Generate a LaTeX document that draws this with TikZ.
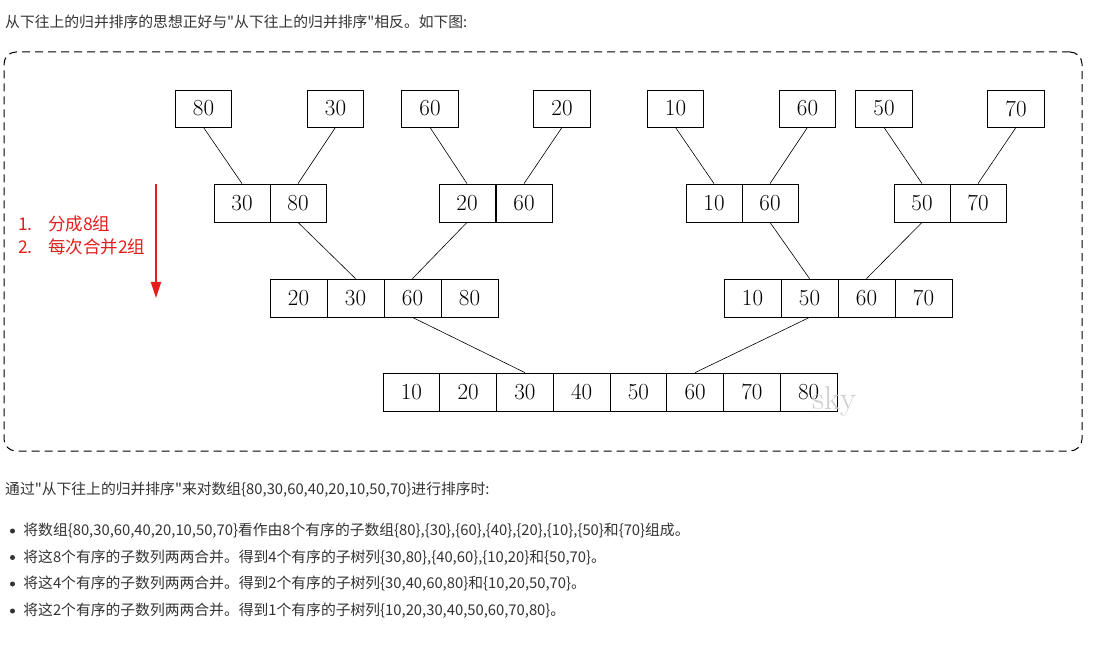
\documentclass[tikz,border=0pt]{standalone}
\usepackage{fontspec}
\newfontfamily\cjk{Noto Sans CJK SC}
\usetikzlibrary{arrows.meta,positioning}
\definecolor{textgray}{RGB}{51,51,51}
\definecolor{notered}{RGB}{228,30,30}
\definecolor{markgray}{RGB}{205,205,205}

\begin{document}
\begin{tikzpicture}[
    x=1pt, y=-1pt,
    cell/.style={rectangle, draw, line width=0.8pt, minimum width=56.5pt, minimum height=37pt, inner sep=0pt, font=\fontsize{23}{23}\selectfont},
    link/.style={line width=0.6pt},
    frame/.style={draw, dash pattern=on 8pt off 5pt, rounded corners=12pt, line width=1pt, minimum width=1078pt, minimum height=399pt},
    body/.style={anchor=west, inner sep=0pt, text=textgray, font=\cjk\fontsize{14.8}{18}\selectfont},
    note/.style={anchor=west, inner sep=0pt, align=left, text=notered, font=\cjk\fontsize{17.5}{23}\selectfont},
    dot/.style={circle, fill=textgray, inner sep=0pt, minimum size=5pt}
]
\useasboundingbox (0,0) rectangle (1119,652);

% Text above
\node[body] (intro) at (5,22) {从下往上的归并排序的思想正好与"从下往上的归并排序"相反。如下图:};

% Dashed frame
\node[frame] (frame) at (543,251.5) {};

% Groups of one
\foreach \v/\x [count=\i] in {80/203.5,30/335.5,60/430,20/562,10/675.5,60/807.5,50/884,70/1016}
    \node[cell] (t\i) at (\x,108.5) {\v};

% Groups of two
\foreach \v/\x [count=\i] in {30/242,80/298,20/467,60/524,10/714,60/770,50/922,70/978}
    \node[cell, minimum width=56pt, minimum height=38pt] (p\i) at (\x,203) {\v};

% Groups of four
\foreach \v/\x [count=\i] in {20/298.5,30/355.5,60/412.5,80/469.5,10/752.5,50/809.5,60/866.5,70/923.5}
    \node[cell, minimum width=57pt, minimum height=38pt] (q\i) at (\x,298) {\v};

% Group of eight
\foreach \v/\x [count=\i] in {10/411.4,20/468.1,30/524.9,40/581.6,50/638.4,60/695.1,70/751.9,80/808.6}
    \node[cell, minimum width=56.75pt, minimum height=38pt] (r\i) at (\x,392) {\v};

% Merge lines
\foreach \i in {1,...,8}
    \draw[link] (t\i.south) -- (p\i.north);
\foreach \i in {2,3,6,7}
    \draw[link] (p\i.south) -- (q\i.north);
\foreach \i in {3,6}
    \draw[link] (q\i.south) -- (r\i.north);

% Watermark
\node[anchor=base west, inner sep=0pt, text=markgray, font=\fontsize{33}{33}\selectfont] (mark) at (812,409) {sky};

% Steps and arrow
\node[note] (steps) at (18,235.5) {\makebox[30pt][l]{1.}分成8组\\\makebox[30pt][l]{2.}每次合并2组};
\coordinate (arrtop) at (156,184);
\coordinate (arrend) at (156,298);
\draw[-{Triangle[length=16pt,width=10pt]}, notered, line width=1.8pt] (arrtop) -- (arrend);

% Text below
\node[body] (lead) at (5,490) {通过"从下往上的归并排序"来对数组\{80,30,60,40,20,10,50,70\}进行排序时:};
\node[dot] (d1) at (12.5,531) {};
\node[dot] (d2) at (12.5,557.5) {};
\node[dot] (d3) at (12.5,584) {};
\node[dot] (d4) at (12.5,611) {};
\node[body, right=8pt of d1] (s1) {将数组\{80,30,60,40,20,10,50,70\}看作由8个有序的子数组\{80\},\{30\},\{60\},\{40\},\{20\},\{10\},\{50\}和\{70\}组成。};
\node[body, right=8pt of d2] (s2) {将这8个有序的子数列两两合并。得到4个有序的子树列\{30,80\},\{40,60\},\{10,20\}和\{50,70\}。};
\node[body, right=8pt of d3] (s3) {将这4个有序的子数列两两合并。得到2个有序的子树列\{30,40,60,80\}和\{10,20,50,70\}。};
\node[body, right=8pt of d4] (s4) {将这2个有序的子数列两两合并。得到1个有序的子树列\{10,20,30,40,50,60,70,80\}。};

\end{tikzpicture}
\end{document}
